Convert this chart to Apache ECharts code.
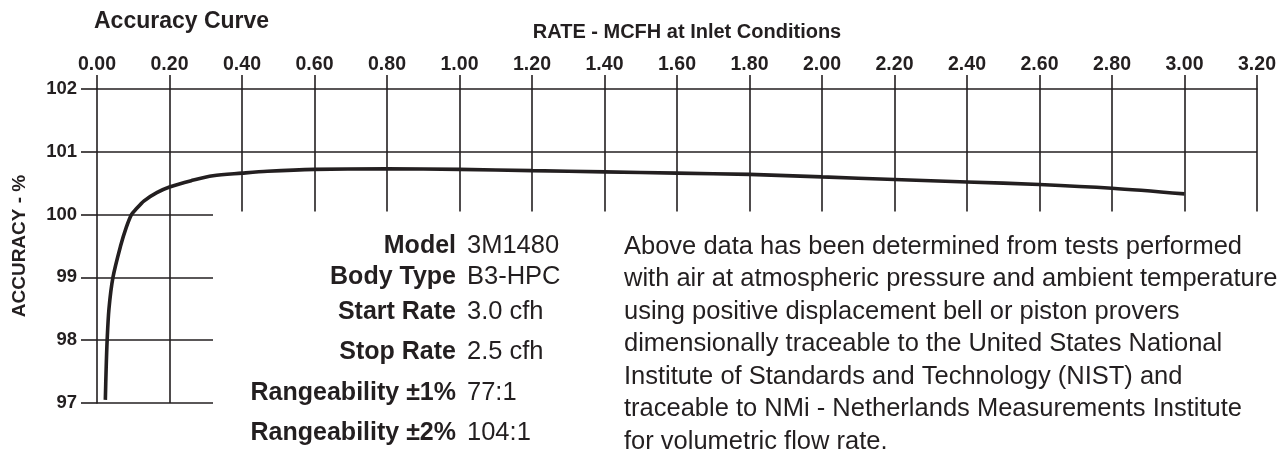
<!DOCTYPE html>
<html>
<head>
<meta charset="utf-8">
<title>Accuracy Curve</title>
<script src="https://cdn.jsdelivr.net/npm/echarts@6.0.0/dist/echarts.min.js"></script>
<style>
  html, body { margin: 0; padding: 0; background: #fff; }
  #chart { width: 1280px; height: 468px; }
</style>
</head>
<body>
<div id="chart"></div>
<script>
// axis ticks
const rateTicks = [0, 0.2, 0.4, 0.6, 0.8, 1.0, 1.2, 1.4, 1.6, 1.8, 2.0, 2.2, 2.4, 2.6, 2.8, 3.0, 3.2];
const accuracyTicks = [97, 98, 99, 100, 101, 102];

// accuracy curve (rate in MCFH, accuracy in %)
const curveRate = [0.023, 0.025, 0.028, 0.033, 0.044, 0.065, 0.081, 0.095, 0.105, 0.13, 0.165, 0.2, 0.26, 0.32, 0.4, 0.47, 0.6, 0.8, 1.0, 1.2, 1.4, 1.6, 1.8, 2.0, 2.2, 2.4, 2.6, 2.8, 3.0];
const curveAccuracy = [97.05, 97.5, 98.0, 98.5, 99.0, 99.5, 99.8, 100.0, 100.07, 100.22, 100.35, 100.44, 100.54, 100.62, 100.66, 100.69, 100.72, 100.73, 100.72, 100.70, 100.68, 100.66, 100.64, 100.60, 100.56, 100.52, 100.48, 100.42, 100.33];

// meter specs
const specLabels = ['Model', 'Body Type', 'Start Rate', 'Stop Rate', 'Rangeability ±1%', 'Rangeability ±2%'];
const specValues = ['3M1480', 'B3-HPC', '3.0 cfh', '2.5 cfh', '77:1', '104:1'];

const noteLines = [
  'Above data has been determined from tests performed',
  'with air at atmospheric pressure and ambient temperature',
  'using positive displacement bell or piston provers',
  'dimensionally traceable to the United States National',
  'Institute of Standards and Technology (NIST) and',
  'traceable to NMi - Netherlands Measurements Institute',
  'for volumetric flow rate.'
];

const INK = '#231f20';
const FONT = '"Liberation Sans", Arial, Helvetica, sans-serif';

// layout of the text block (pixels)
const specRowY = [246, 277, 312, 352, 393, 433];
const noteTop = 246.5;
const noteStep = 32.5;
const textSize = 25.5;
const labelSize = 25;

// grid lines below the curve only run part way
const shortLineTop = 100.05;   // verticals from 0.40 on stop here
const shortLineRight = 0.32;   // horizontals 97..100 stop here

const gridSegments = [];
rateTicks.forEach((x) => {
  if (x === 0) return; // drawn by the y axis line
  const yEnd = x <= 0.2 ? accuracyTicks[0] : shortLineTop;
  gridSegments.push([{ coord: [x, accuracyTicks[accuracyTicks.length - 1]] }, { coord: [x, yEnd] }]);
});
accuracyTicks.forEach((y) => {
  if (y === 102) return; // x axis line
  const xEnd = y === 101 ? rateTicks[rateTicks.length - 1] : shortLineRight;
  gridSegments.push([{ coord: [0, y] }, { coord: [xEnd, y] }]);
});

const graphics = [];
specLabels.forEach((label, i) => {
  graphics.push({
    type: 'text', x: 456, y: specRowY[i], silent: true,
    style: { text: label, fontFamily: FONT, fontSize: labelSize, fontWeight: 'bold', fill: INK, align: 'right', verticalAlign: 'middle' }
  });
  graphics.push({
    type: 'text', x: 467, y: specRowY[i], silent: true,
    style: { text: specValues[i], fontFamily: FONT, fontSize: textSize, fill: INK, align: 'left', verticalAlign: 'middle' }
  });
});
noteLines.forEach((line, i) => {
  graphics.push({
    type: 'text', x: 624, y: noteTop + i * noteStep, silent: true,
    style: { text: line, fontFamily: FONT, fontSize: textSize, fill: INK, align: 'left', verticalAlign: 'middle' }
  });
});

const chart = echarts.init(document.getElementById('chart'));

const option = {
  animation: false,
  backgroundColor: '#fff',
  textStyle: { fontFamily: FONT, color: INK },
  title: {
    text: 'Accuracy Curve',
    left: 89,
    top: 5,
    textStyle: { fontFamily: FONT, fontSize: 23, fontWeight: 'bold', color: INK }
  },
  grid: { left: 97, top: 89, right: 23, bottom: 65 },
  xAxis: {
    type: 'value',
    position: 'top',
    min: 0,
    max: 3.2,
    interval: 0.2,
    name: 'RATE - MCFH at Inlet Conditions',
    nameLocation: 'middle',
    nameGap: 47,
    nameTextStyle: { fontFamily: FONT, fontSize: 20, fontWeight: 'bold', color: INK, padding: [0, 0, 0, 20] },
    axisLine: { show: true, lineStyle: { color: INK, width: 1.6 } },
    axisTick: { show: true, length: 14, lineStyle: { color: INK, width: 1.6 } },
    axisLabel: {
      margin: 14,
      fontFamily: FONT, fontSize: 19.5, fontWeight: 'bold', color: INK,
      formatter: (v) => v.toFixed(2)
    },
    splitLine: { show: false }
  },
  yAxis: {
    type: 'value',
    min: 97,
    max: 102,
    interval: 1,
    name: 'ACCURACY - %',
    nameLocation: 'middle',
    nameGap: 68,
    nameTextStyle: { fontFamily: FONT, fontSize: 19, fontWeight: 'bold', color: INK },
    axisLine: { show: true, lineStyle: { color: INK, width: 1.6 } },
    axisTick: { show: true, length: 16, lineStyle: { color: INK, width: 1.6 } },
    axisLabel: { margin: 20, fontFamily: FONT, fontSize: 18.5, fontWeight: 'bold', color: INK },
    splitLine: { show: false }
  },
  series: [
    {
      type: 'line',
      name: 'Accuracy',
      data: curveRate.map((x, i) => [x, curveAccuracy[i]]),
      showSymbol: false,
      smooth: 0.3,
      lineStyle: { color: INK, width: 3.6 },
      z: 5,
      markLine: {
        silent: true,
        symbol: ['none', 'none'],
        label: { show: false },
        emphasis: { disabled: true },
        lineStyle: { color: INK, width: 1.6, type: 'solid' },
        data: gridSegments
      }
    }
  ],
  graphic: graphics
};

chart.setOption(option);
</script>
</body>
</html>
